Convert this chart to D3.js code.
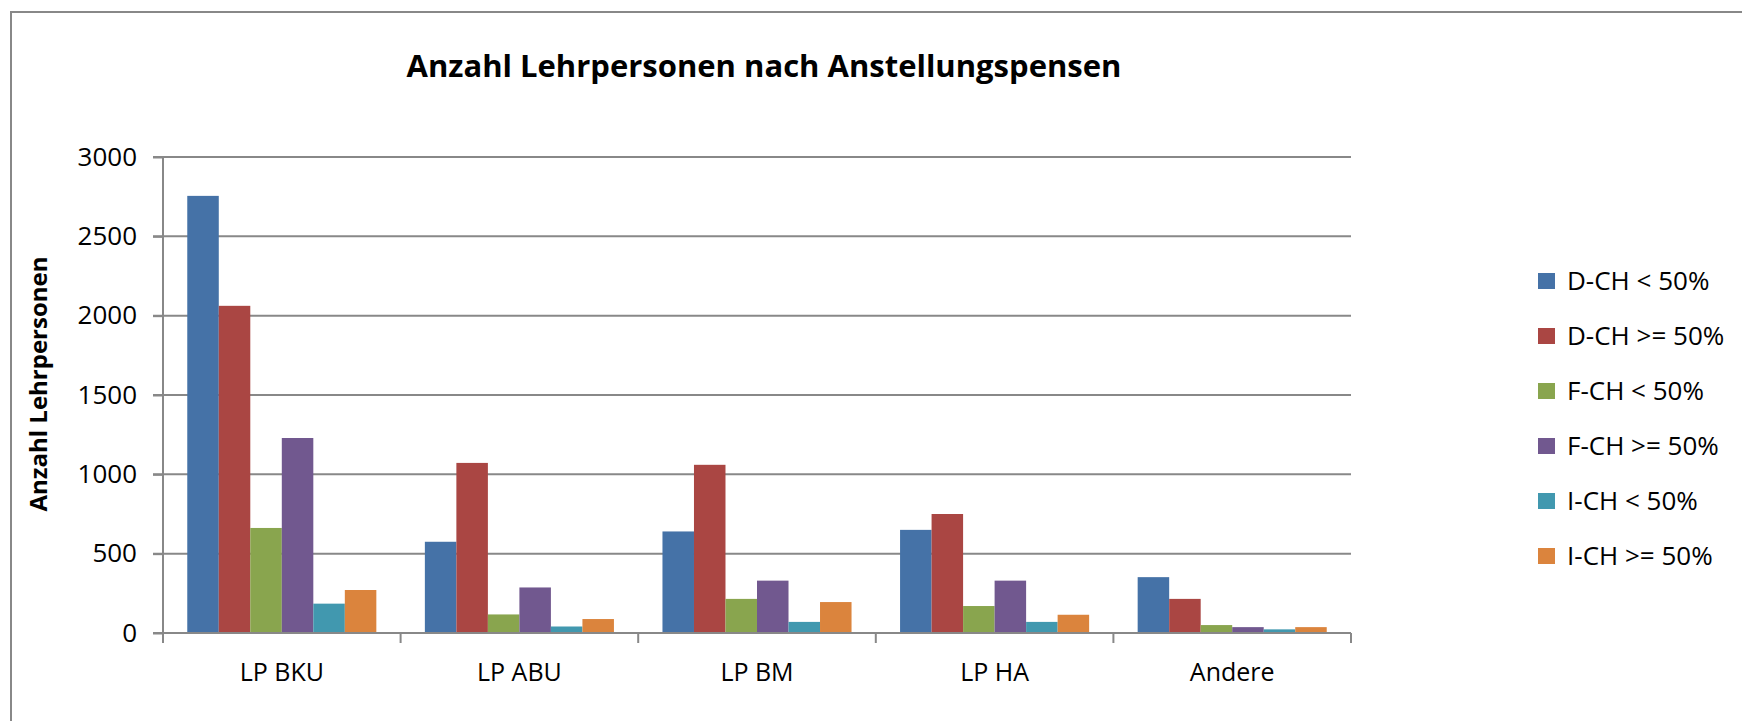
<!DOCTYPE html>
<html>
<head>
<meta charset="utf-8">
<script src="https://cdn.jsdelivr.net/npm/d3@7"></script>
<style>
  body { margin: 0; background: #fff; }
  svg { display: block; font-family: "Open Sans", sans-serif; }
  .domain { display: none; }
</style>
</head>
<body>
<div id="chart"></div>
<script>
// chart data
const categories = ["LP BKU", "LP ABU", "LP BM", "LP HA", "Andere"];
const series = ["D-CH < 50%", "D-CH >= 50%", "F-CH < 50%", "F-CH >= 50%", "I-CH < 50%", "I-CH >= 50%"];
const dchUnder = [2755, 575, 640, 650, 352];
const dchOver = [2062, 1072, 1060, 750, 215];
const fchUnder = [662, 117, 215, 170, 50];
const fchOver = [1229, 287, 330, 330, 37];
const ichUnder = [185, 41, 70, 70, 23];
const ichOver = [271, 88, 195, 115, 37];
const yTicks = [0, 500, 1000, 1500, 2000, 2500, 3000];
const colors = ["#4572A7", "#AA4643", "#89A54E", "#71588F", "#4198AF", "#DB843D"];

const values = [dchUnder, dchOver, fchUnder, fchOver, ichUnder, ichOver];

const width = 1742, height = 721;
const plot = { left: 163, right: 1351, top: 157, bottom: 633 };
const grey = "#888888";

const svg = d3.select("#chart").append("svg")
    .attr("width", width)
    .attr("height", height);

// chart area frame (only top and left visible)
svg.append("path")
    .attr("d", `M11,${height} L11,12 L${width},12`)
    .attr("fill", "none")
    .attr("stroke", grey)
    .attr("stroke-width", 2);

svg.append("text")
    .attr("x", 764)
    .attr("y", 77)
    .attr("text-anchor", "middle")
    .style("font-weight", "bold")
    .style("font-size", "31px")
    .text("Anzahl Lehrpersonen nach Anstellungspensen");

const y = d3.scaleLinear().domain([0, 3000]).range([plot.bottom, plot.top]);

const x0 = d3.scaleBand()
    .domain(categories)
    .range([plot.left, plot.right])
    .padding(0);

const x1 = d3.scaleBand()
    .domain(series)
    .range([0, x0.bandwidth()])
    .paddingInner(0)
    .paddingOuter(0.77);

// gridlines
svg.append("g")
  .selectAll("line")
  .data(yTicks)
  .enter()
  .append("line")
    .attr("x1", plot.left - 10)
    .attr("x2", plot.right)
    .attr("y1", d => y(d))
    .attr("y2", d => y(d))
    .attr("stroke", grey)
    .attr("stroke-width", 2);

// y axis
const yAxis = svg.append("g")
    .attr("transform", `translate(${plot.left},0)`)
    .call(d3.axisLeft(y).tickValues(yTicks).tickFormat(d3.format("d")).tickSize(10).tickPadding(16));
yAxis.selectAll("line").attr("stroke", grey).attr("stroke-width", 2);
yAxis.selectAll("text")
    .style("font-size", "26px")
    .style("font-family", "'Open Sans', sans-serif")
    .attr("fill", "#000");

svg.append("line")
    .attr("x1", plot.left).attr("x2", plot.left)
    .attr("y1", plot.top).attr("y2", plot.bottom)
    .attr("stroke", grey).attr("stroke-width", 2);

svg.append("text")
    .attr("transform", `translate(47,384) rotate(-90)`)
    .attr("text-anchor", "middle")
    .style("font-weight", "bold")
    .style("font-size", "24px")
    .text("Anzahl Lehrpersonen");

// bars
const groups = svg.append("g")
  .selectAll("g")
  .data(categories)
  .enter()
  .append("g")
    .attr("transform", d => `translate(${x0(d)},0)`);

groups.selectAll("rect")
    .data((c, ci) => series.map((s, si) => ({ s, si, v: values[si][ci] })))
    .enter()
    .append("rect")
      .attr("x", d => x1(d.s))
      .attr("width", x1.bandwidth())
      .attr("y", d => y(d.v))
      .attr("height", d => y(0) - y(d.v))
      .style("fill", d => colors[d.si]);

// x axis line and boundary ticks
svg.append("line")
    .attr("x1", plot.left).attr("x2", plot.right)
    .attr("y1", plot.bottom).attr("y2", plot.bottom)
    .attr("stroke", grey).attr("stroke-width", 2);

const bounds = categories.map(c => x0(c)).concat([plot.right]);
svg.append("g")
  .selectAll("line")
  .data(bounds)
  .enter()
  .append("line")
    .attr("x1", d => d).attr("x2", d => d)
    .attr("y1", plot.bottom).attr("y2", plot.bottom + 10)
    .attr("stroke", grey).attr("stroke-width", 2);

const xAxis = svg.append("g")
    .attr("transform", `translate(0,${plot.bottom})`)
    .call(d3.axisBottom(x0).tickSize(0).tickPadding(30));
xAxis.selectAll("text")
    .style("font-size", "25px")
    .style("font-family", "'Open Sans', sans-serif")
    .attr("fill", "#000");

// legend
const legend = svg.append("g")
  .selectAll("g")
  .data(series)
  .enter()
  .append("g")
    .attr("transform", (d, i) => `translate(1538,${281 + i * 55})`);

legend.append("rect")
    .attr("x", 0).attr("y", -8)
    .attr("width", 17).attr("height", 16)
    .style("fill", (d, i) => colors[i]);

legend.append("text")
    .attr("x", 29)
    .attr("dy", "0.35em")
    .style("font-size", "26px")
    .text(d => d);
</script>
</body>
</html>
